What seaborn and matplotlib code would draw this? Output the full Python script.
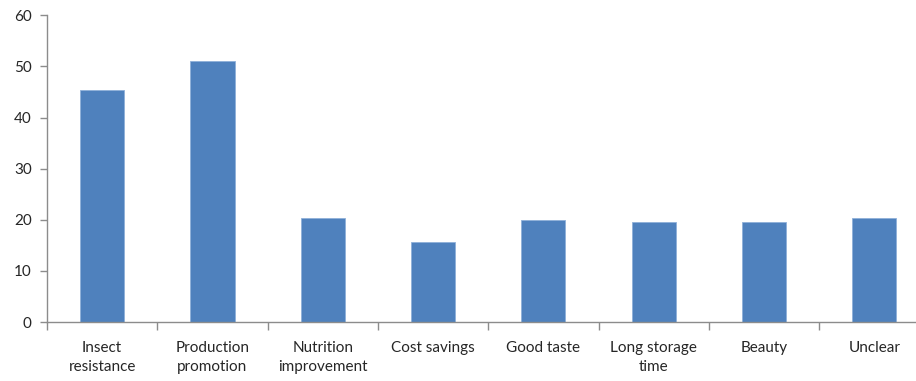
import matplotlib
matplotlib.use("Agg")
import matplotlib.pyplot as plt
import seaborn as sns
import pandas as pd

categories = ["Insect\nresistance", "Production\npromotion", "Nutrition\nimprovement",
              "Cost savings", "Good taste", "Long storage\ntime", "Beauty", "Unclear"]
values = [45.4, 51.1, 20.45, 15.6, 19.9, 19.6, 19.6, 20.45]
y_ticks = [0, 10, 20, 30, 40, 50, 60]

sns.set_style("white")
plt.rcParams['font.family'] = ['Lato', 'DejaVu Sans']

df = pd.DataFrame({"cat": categories, "val": values})

fig = plt.figure(figsize=(9.16, 3.81), dpi=100)
ax = fig.add_axes([47/916, 59/381, 882.4/916, 306.6/381])

sns.barplot(data=df, x="cat", y="val", color="#4F81BD", width=0.4,
            edgecolor="#8fb0d9", linewidth=0.6, saturation=1, ax=ax)

ax.set_xlim(-0.5, len(categories) - 0.5)
ax.set_ylim(0, 60)
ax.set_yticks(y_ticks)
ax.set_xlabel("")
ax.set_ylabel("")

for s in ["top", "right"]:
    ax.spines[s].set_visible(False)
for s in ["left", "bottom"]:
    ax.spines[s].set_color("#8c8c8c")
    ax.spines[s].set_linewidth(1.0)

ax.tick_params(axis="y", which="major", direction="out", length=5, width=1,
               color="#8c8c8c", labelsize=11, labelcolor="#262626", pad=6, left=True)
ax.tick_params(axis="x", which="major", length=0, labelsize=11,
               labelcolor="#262626", pad=14, bottom=True)
ax.set_xticks([i + 0.5 for i in range(-1, len(categories))], minor=True)
ax.tick_params(axis="x", which="minor", direction="out", length=6, width=1,
               color="#8c8c8c", bottom=True)
for lab in ax.get_xticklabels():
    lab.set_multialignment("center")
    lab.set_linespacing(1.45)

fig.savefig("out.png", dpi=100)
